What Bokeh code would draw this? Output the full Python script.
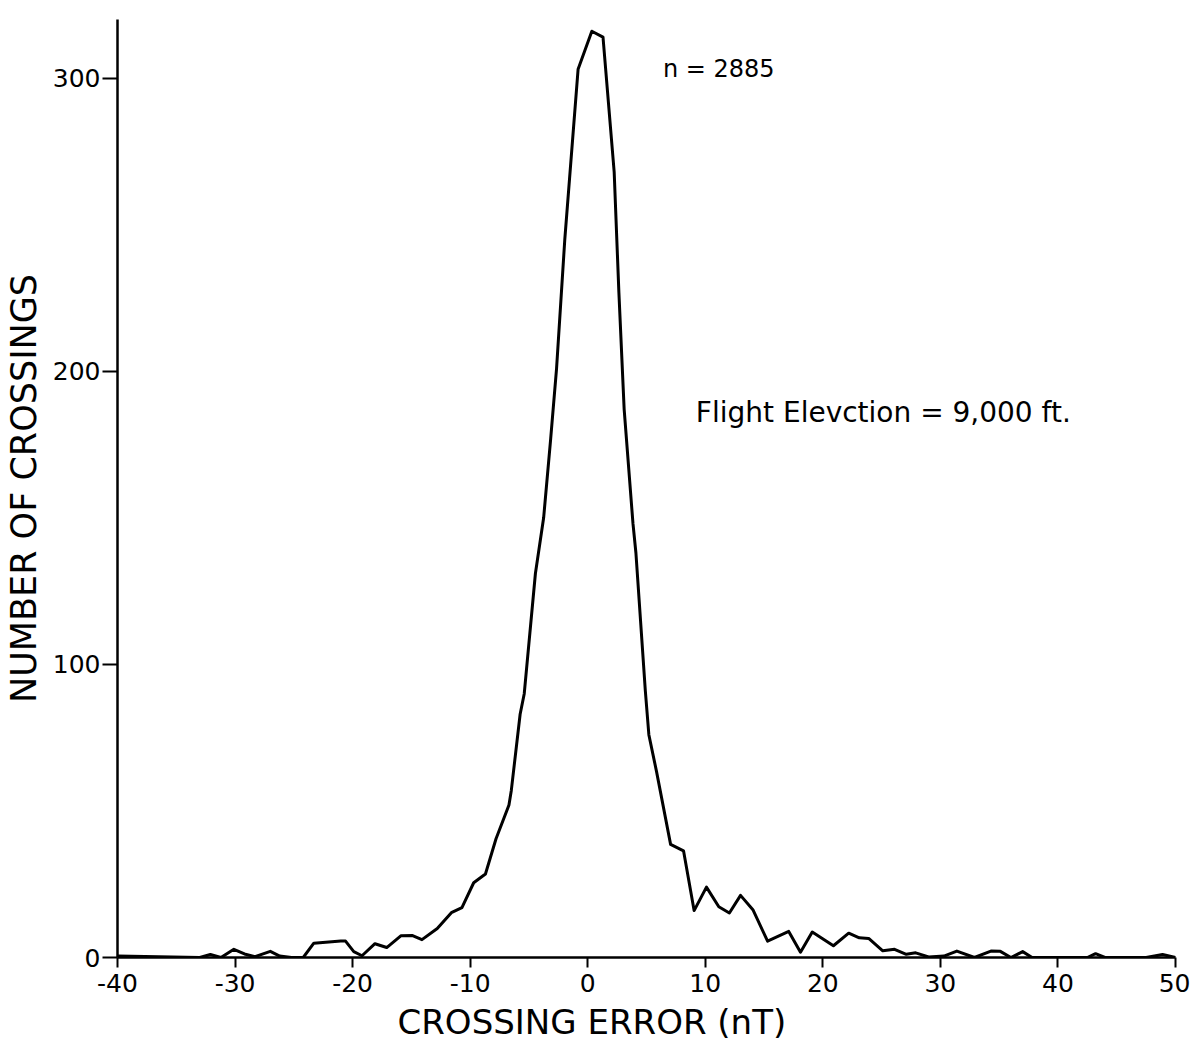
from bokeh.plotting import figure
from bokeh.models import Label, FixedTicker, Range1d, Title
from bokeh.embed import file_html
from bokeh.resources import INLINE

# ---- data ----
crossing_error = [-40, -33, -32.1, -31.2, -30.1, -29.2, -28.3, -27.0, -26.2, -25.2, -24.2,
                  -23.3, -21.0, -20.6, -19.9, -19.2, -18.1, -17.1, -15.9, -14.9, -14.1,
                  -12.8, -11.6, -10.7, -9.7, -8.7, -7.8, -6.7, -6.5, -5.75, -5.4, -4.45,
                  -3.75, -3.15, -2.65, -1.95, -0.82, 0.35, 1.3, 2.25, 2.65, 3.1, 3.85, 4.1, 4.9,
                  5.2, 5.85, 7.05, 8.15, 9.05, 10.1, 11.15, 12.05, 13.0, 14.05, 15.3, 17.1, 18.1,
                  19.1, 20.9, 22.2, 23.1, 23.9, 25.1, 26.1, 27.1, 27.9, 29.0, 30.3, 31.4,
                  32.9, 34.3, 35.1, 36.0, 37.0, 37.8, 42.5, 43.2, 44.0, 47.5, 48.9, 50.0]
num_crossings = [0.5, 0, 1.0, 0, 2.8, 1.2, 0.3, 2.1, 0.5, 0, 0,
                 4.9, 5.6, 5.6, 2.0, 0.6, 4.7, 3.4, 7.4, 7.5, 6.1,
                 9.9, 15.3, 17.0, 25.5, 28.5, 40.5, 52, 57, 83, 90, 131,
                 150, 177, 201, 245, 303, 316, 314, 268, 227, 187, 148, 138, 91,
                 76, 63.5, 38.6, 36.4, 16, 24, 17.3, 15.2, 21.2, 16.3, 5.6, 8.9, 1.8,
                 8.7, 4.0, 8.3, 6.7, 6.5, 2.3, 2.8, 1.1, 1.6, 0.2, 0.5, 2.2,
                 0, 2.2, 2.1, 0, 2.0, 0, 0, 1.3, 0, 0, 1.0, 0]

x_ticks = [-40, -30, -20, -10, 0, 10, 20, 30, 40, 50]
x_tick_labels = ["-40", "-30", "-20", "-10", "0", "10", "20", "30", "40", "50"]
y_ticks = [0, 100, 200, 300]
y_tick_labels = ["0", "100", "200", "300"]

x_title = "CROSSING ERROR (nT)"
y_title = "NUMBER OF CROSSINGS"
note_n = "n = 2885"
note_elev = "Flight Elevction = 9,000 ft."

FONT = "DejaVu Sans"

p = figure(width=1190, height=1052, output_backend="svg", toolbar_location=None,
           x_range=Range1d(-40, 50), y_range=Range1d(0, 320),
           min_border_left=117, min_border_right=15, min_border_top=19, min_border_bottom=95)
p.outline_line_color = None
p.xgrid.visible = False
p.ygrid.visible = False
p.background_fill_color = "white"
p.border_fill_color = "white"

p.line(crossing_error, num_crossings, line_color="black", line_width=3, line_join="round")

# axes
p.xaxis.ticker = FixedTicker(ticks=x_ticks)
p.xaxis.major_label_overrides = dict(zip(x_ticks, x_tick_labels))
p.yaxis.ticker = FixedTicker(ticks=y_ticks)
p.yaxis.major_label_overrides = dict(zip(y_ticks, y_tick_labels))
for ax in (p.xaxis, p.yaxis):
    ax.axis_line_color = "black"
    ax.axis_line_width = 2.5
    ax.major_tick_line_color = "black"
    ax.major_tick_line_width = 2
    ax.minor_tick_line_color = None
    ax.major_tick_in = 0
    ax.major_label_text_font = FONT
    ax.major_label_text_font_size = "25px"
    ax.major_label_text_color = "black"
p.xaxis.major_tick_out = 10
p.xaxis.major_label_standoff = 6
p.yaxis.major_tick_out = 15
p.yaxis.major_label_standoff = 2

p.yaxis.axis_label = y_title
p.yaxis.axis_label_text_font = FONT
p.yaxis.axis_label_text_font_size = "35px"
p.yaxis.axis_label_text_font_style = "normal"
p.yaxis.axis_label_text_color = "black"
p.yaxis.axis_label_standoff = 6

p.add_layout(Title(text=x_title, align="left", offset=280, standoff=10,
                   text_font=FONT, text_font_size="34px", text_font_style="normal",
                   text_color="black"), "below")

p.add_layout(Label(x=6.4, y=303, text=note_n, text_font=FONT, text_font_size="24px",
                   text_color="black", text_align="left", text_baseline="middle"))
p.add_layout(Label(x=9.2, y=186, text=note_elev, text_font=FONT, text_font_size="28px",
                   text_color="black", text_align="left", text_baseline="middle"))

open("out.html", "w").write(file_html(p, INLINE))
